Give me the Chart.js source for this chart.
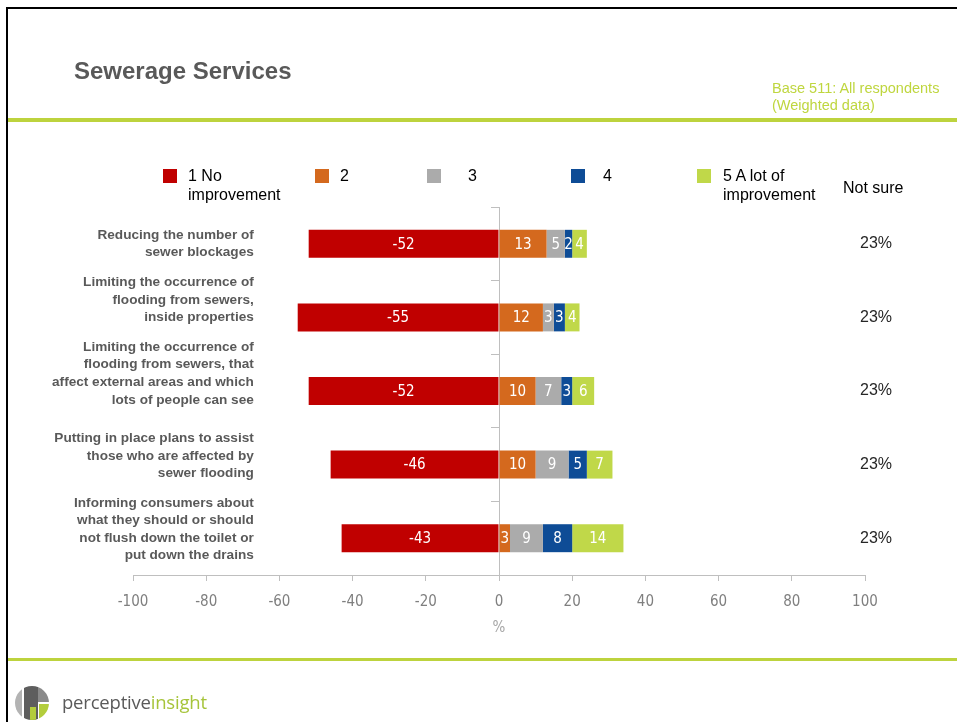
<!DOCTYPE html>
<html>
<head>
<meta charset="utf-8">
<title>Sewerage Services</title>
<script src="https://cdn.jsdelivr.net/npm/chart.js@4/dist/chart.umd.min.js"></script>
<style>
  html, body { margin: 0; padding: 0; background: #fff; }
  #page { position: relative; width: 957px; height: 722px; overflow: hidden;
          font-family: "Liberation Sans", Arial, sans-serif; }
  #chart { position: absolute; left: 0; top: 0; }
  .frame-top { position: absolute; left: 6px; top: 7px; width: 951px; height: 2px; background: #000; }
  .frame-left { position: absolute; left: 6px; top: 7px; width: 2px; height: 715px; background: #000; }
  .rule { position: absolute; left: 8px; width: 949px; background: #BDD33E; }
  #title { position: absolute; left: 74px; top: 57px; font-weight: bold; font-size: 24px; color: #595959; white-space: nowrap; }
  #base { position: absolute; left: 772px; top: 80px; font-size: 14.5px; line-height: 17px; color: #BFD63F; white-space: nowrap; }
  .lg-box { position: absolute; top: 169px; width: 14px; height: 14px; }
  .lg-text { position: absolute; top: 166px; font-size: 16px; line-height: 19px; color: #000; width: 110px; }
  #notsure { position: absolute; left: 843px; top: 178px; font-size: 16px; line-height: 19px; color: #000; }
  #logo { position: absolute; left: 14px; top: 685px; }
  #brand { position: absolute; left: 62px; top: 689px; font-family: "Open Sans", sans-serif; font-size: 18.5px; color: #5A5A5A; letter-spacing: -0.2px; }
  #brand span { color: #A6C43A; }
</style>
</head>
<body>
<div id="page">
  <canvas id="chart" width="957" height="722"></canvas>
  <div class="frame-top"></div>
  <div class="frame-left"></div>
  <div class="rule" style="top:118px;height:4px;"></div>
  <div class="rule" style="top:658px;height:3px;"></div>
  <div id="title">Sewerage Services</div>
  <div id="base">Base 511: All respondents<br>(Weighted data)</div>
  <div id="legend"></div>
  <div id="notsure">Not sure</div>
  <svg id="logo" width="36" height="36" viewBox="0 0 36 36">
    <defs><clipPath id="disc"><circle cx="18" cy="18" r="17"/></clipPath></defs>
    <g clip-path="url(#disc)">
      <rect x="0" y="0" width="8" height="36" fill="#B3B3B3"/>
      <rect x="10" y="0" width="14" height="36" fill="#5E5E5E"/>
      <rect x="24" y="0" width="12" height="17" fill="#8A8A8A"/>
      <rect x="25" y="19" width="11" height="17" fill="#B3CD3C"/>
      <rect x="16" y="22" width="6" height="14" fill="#B3CD3C"/>
    </g>
  </svg>
  <div id="brand">perceptive<span>insight</span></div>
</div>
<script>
// Categories (multi-line labels; trailing blank lines lift a label within its row)
const categories = [
  ["Reducing the number of", "sewer blockages"],
  ["Limiting the occurrence of", "flooding from sewers,", "inside properties", "", ""],
  ["Limiting the occurrence of", "flooding from sewers, that", "affect external areas and which", "lots of people can see", "", ""],
  ["Putting in place plans to assist", "those who are affected by", "sewer flooding", ""],
  ["Informing consumers about", "what they should or should", "not flush down the toilet or", "put down the drains", ""]
];

// Series names and values (%); "no improvement" is plotted on the negative side
const seriesNames = ["1 No improvement", "2", "3", "4", "5 A lot of improvement"];
const noImprovement    = [-52, -55, -52, -46, -43];
const scoreTwo         = [13, 12, 10, 10, 3];
const scoreThree       = [5, 3, 7, 9, 9];
const scoreFour        = [2, 3, 3, 5, 8];
const lotOfImprovement = [4, 4, 6, 7, 14];
const notSure          = [23, 23, 23, 23, 23];

// Axis range
const axisMin = -100;
const axisMax = 100;
const axisStep = 20;

// Styling
const seriesColors = ["#C00000", "#D4691E", "#ABABAB", "#0E4C96", "#C0D849"];
const legendBoxX = [163, 315, 427, 571, 697];
const legendTextX = [188, 340, 468, 603, 723];
const labelEdge = -67;     // x value where the category labels end (right-aligned)
const notSureEdge = 107.4; // x value where the "not sure" column ends (right-aligned)
const narrowFont = '"Liberation Sans Narrow", "DejaVu Sans Condensed", Roboto, sans-serif';
const labelFont = '"Liberation Sans", Arial, sans-serif';

const seriesValues = [noImprovement, scoreTwo, scoreThree, scoreFour, lotOfImprovement];

// Legend
const legendEl = document.getElementById('legend');
seriesNames.forEach((name, i) => {
  const box = document.createElement('div');
  box.className = 'lg-box';
  box.style.left = legendBoxX[i] + 'px';
  box.style.background = seriesColors[i];
  legendEl.appendChild(box);
  const txt = document.createElement('div');
  txt.className = 'lg-text';
  txt.style.left = legendTextX[i] + 'px';
  txt.textContent = name;
  legendEl.appendChild(txt);
});

// Values written in white inside each bar segment
const barValueLabels = {
  id: 'barValueLabels',
  afterDatasetsDraw(chart) {
    const ctx = chart.ctx;
    ctx.save();
    ctx.font = '15px ' + narrowFont;
    ctx.fillStyle = '#FFFFFF';
    ctx.textAlign = 'center';
    ctx.textBaseline = 'middle';
    chart.data.datasets.forEach((ds, i) => {
      chart.getDatasetMeta(i).data.forEach((bar, j) => {
        const v = ds.data[j];
        if (!v) return;
        ctx.fillText(String(v), (bar.x + bar.base) / 2, bar.y + 1);
      });
    });
    ctx.restore();
  }
};

new Chart(document.getElementById('chart').getContext('2d'), {
  type: 'bar',
  data: {
    labels: categories,
    datasets: seriesNames.map((name, i) => ({
      label: name,
      data: seriesValues[i],
      backgroundColor: seriesColors[i],
      borderWidth: 0,
      barPercentage: 0.38,
      categoryPercentage: 1
    }))
  },
  options: {
    indexAxis: 'y',
    responsive: false,
    animation: false,
    layout: { padding: { top: 207, left: 133, right: 92, bottom: 77 } },
    plugins: { legend: { display: false }, tooltip: { enabled: false } },
    scales: {
      x: {
        type: 'linear', min: axisMin, max: axisMax, stacked: true,
        ticks: { stepSize: axisStep, color: '#7F7F7F', font: { family: narrowFont, size: 15 }, padding: 12 },
        grid: { drawOnChartArea: false, drawTicks: true, tickLength: 6, color: '#BFBFBF' },
        border: { color: '#BFBFBF' },
        title: { display: true, text: '%', color: '#A6A6A6', font: { family: narrowFont, size: 15 }, padding: { top: 4, bottom: 8 } },
        afterFit: s => { s.height = 70; }
      },
      y: {
        type: 'category', position: { x: labelEdge }, stacked: true, offset: true,
        grid: { display: false, drawTicks: false },
        border: { display: false },
        ticks: { color: '#595959', autoSkip: false, padding: 0,
                 font: { family: labelFont, size: 13.6, weight: 'bold', lineHeight: 1.29 } }
      },
      y2: {
        type: 'category', position: { x: 0 }, offset: true, z: 1,
        grid: { drawOnChartArea: false, drawTicks: true, tickLength: 8, color: '#BFBFBF', offset: true },
        border: { color: '#BFBFBF' },
        ticks: { display: false }
      },
      yNS: {
        type: 'category', position: { x: notSureEdge }, offset: true,
        labels: notSure.map(v => v + '%'),
        grid: { display: false, drawTicks: false },
        border: { display: false },
        ticks: { color: '#262626', autoSkip: false, padding: 0, font: { family: labelFont, size: 16 } }
      }
    }
  },
  plugins: [barValueLabels]
});
</script>
</body>
</html>
